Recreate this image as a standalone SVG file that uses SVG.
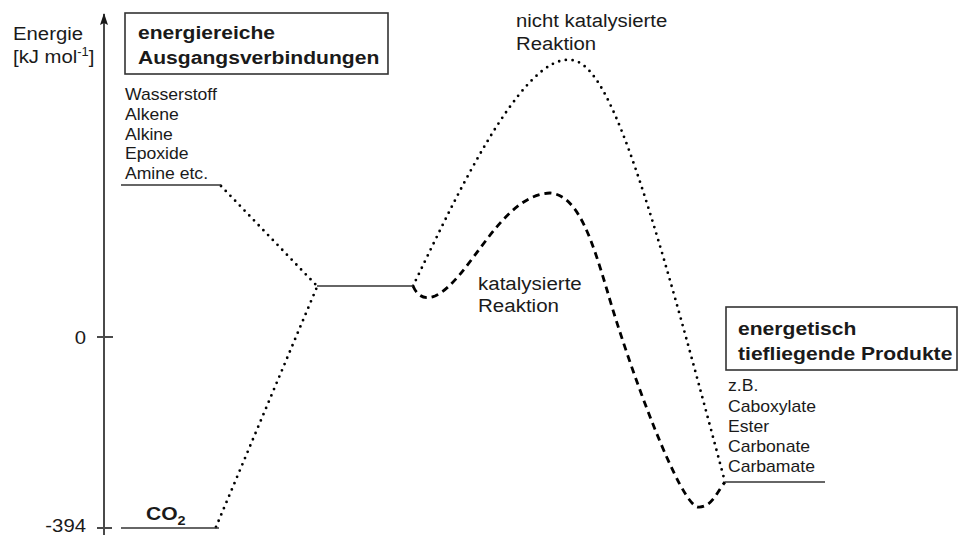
<svg xmlns="http://www.w3.org/2000/svg" width="959" height="535" viewBox="0 0 959 535">
<defs>
<style>
.t{font-family:"Liberation Sans",Arial,Helvetica,sans-serif;font-size:19px;fill:#1a1a1a}
.b{font-weight:bold}
.s{font-size:16px}
.lvl{stroke:#333;stroke-width:1.6;fill:none}
.axis{stroke:#4a4a4a;stroke-width:2;fill:none}
.dot{stroke:#000;stroke-width:2.8;stroke-dasharray:0 6.8;stroke-linecap:round;fill:none}
.dash{stroke:#000;stroke-width:2.8;stroke-dasharray:7 5;fill:none}
.box{fill:#fff;stroke:#333;stroke-width:1.6}
</style>
<marker id="arrow" markerUnits="userSpaceOnUse" markerWidth="8" markerHeight="12" refX="4" refY="1" orient="0" viewBox="0 0 8 12">
<path d="M4,0 L8,12 L4,10 L0,12 Z" fill="#1a1a1a"/>
</marker>
</defs>
<rect width="959" height="535" fill="#fff"/>

<g id="axis">
<line class="axis" x1="104" y1="535" x2="104" y2="14" marker-end="url(#arrow)"/>
<line class="axis" x1="97" y1="337" x2="113" y2="337"/>
<line class="axis" x1="97" y1="528" x2="112" y2="528"/>
<text class="t" transform="matrix(1.07 0 0 1 13 40)">Energie</text>
<text class="t" transform="matrix(1.07 0 0 1 13 63)">[kJ mol<tspan font-size="12" dy="-7">-1</tspan><tspan dy="7">]</tspan></text>
<text class="t" text-anchor="end" transform="matrix(1.07 0 0 1 86 344)">0</text>
<text class="t" text-anchor="end" transform="matrix(1.07 0 0 1 86 532)">-394</text>
</g>

<g id="connectors">
<path id="c-start-int" class="dot" d="M221,186 L317,286"/>
<path id="c-co2-int" class="dot" d="M216,527 L317,287"/>
<path id="c-uncat" class="dot" d="M413,286 C450,210 520,55 570,60 C610,60 650,200 725,482"/>
<path id="c-cat" class="dash" d="M413,286 Q420,302 435,296 C470,280 500,195 550,193 C578,195 592,240 607,290 C630,370 680,505 698,507 C712,508 718,490 725,482"/>
</g>

<g id="node-start">
<rect class="box" x="125" y="13" width="263" height="61"/>
<text class="t b" transform="matrix(1.11 0 0 1 138 39)">energiereiche</text>
<text class="t b" transform="matrix(1.11 0 0 1 138 64)">Ausgangsverbindungen</text>
<text class="t s" transform="matrix(1.1 0 0 1 125 100)">Wasserstoff</text>
<text class="t s" transform="matrix(1.1 0 0 1 125 120)">Alkene</text>
<text class="t s" transform="matrix(1.1 0 0 1 125 139.5)">Alkine</text>
<text class="t s" transform="matrix(1.1 0 0 1 125 159)">Epoxide</text>
<text class="t s" transform="matrix(1.1 0 0 1 125 179)">Amine etc.</text>
<line class="lvl" x1="121" y1="185" x2="221" y2="185"/>
</g>

<g id="node-co2">
<line class="lvl" x1="121" y1="528" x2="219" y2="528"/>
<text class="t b" transform="matrix(1.11 0 0 1 146 520)">CO<tspan font-size="13" dy="5">2</tspan></text>
</g>

<g id="node-intermediate">
<line class="lvl" x1="317" y1="286" x2="413" y2="286" stroke="#111"/>
</g>

<g id="label-uncat">
<text class="t" transform="matrix(1.07 0 0 1 516 27)">nicht katalysierte</text>
<text class="t" transform="matrix(1.07 0 0 1 516 50)">Reaktion</text>
</g>

<g id="label-cat">
<text class="t" transform="matrix(1.08 0 0 1 478 290)">katalysierte</text>
<text class="t" transform="matrix(1.08 0 0 1 478 312)">Reaktion</text>
</g>

<g id="node-products">
<rect class="box" x="726" y="307" width="231" height="63"/>
<text class="t b" transform="matrix(1.11 0 0 1 738 335)">energetisch</text>
<text class="t b" transform="matrix(1.11 0 0 1 738 360)">tiefliegende Produkte</text>
<text class="t s" transform="matrix(1.1 0 0 1 728 391)">z.B.</text>
<text class="t s" transform="matrix(1.1 0 0 1 728 412)">Caboxylate</text>
<text class="t s" transform="matrix(1.1 0 0 1 728 432)">Ester</text>
<text class="t s" transform="matrix(1.1 0 0 1 728 452)">Carbonate</text>
<text class="t s" transform="matrix(1.1 0 0 1 728 472)">Carbamate</text>
<line class="lvl" x1="725" y1="482" x2="825" y2="482"/>
</g>
</svg>
